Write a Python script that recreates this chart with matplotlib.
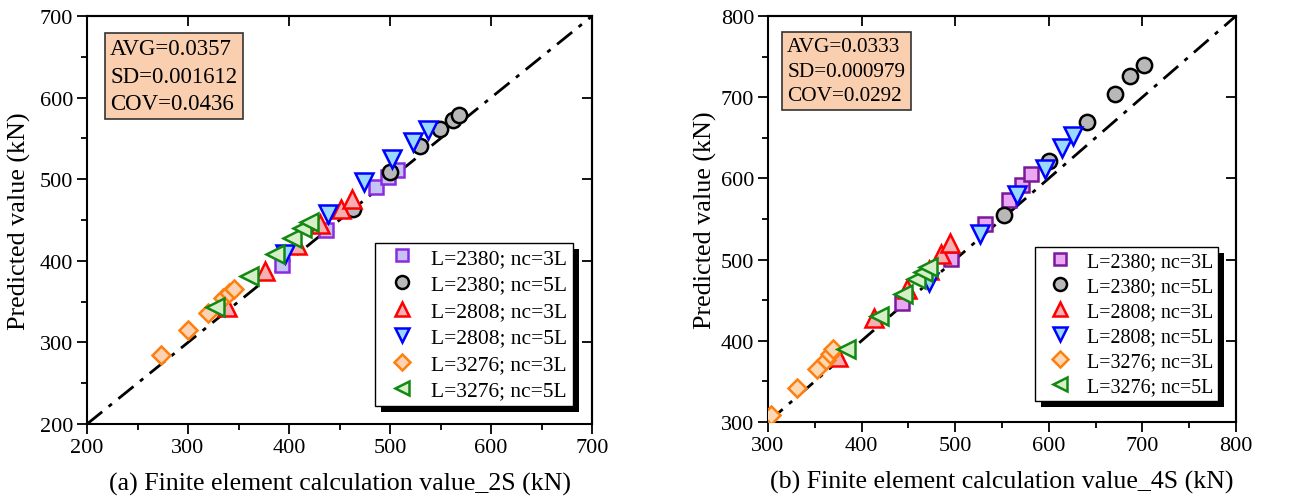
import numpy as np
import matplotlib
matplotlib.use("Agg")
import matplotlib.pyplot as plt
from matplotlib.patches import Rectangle
from matplotlib.ticker import MultipleLocator

plt.rcParams['font.family'] = ['Liberation Serif', 'DejaVu Serif']

labels = ["L=2380; nc=3L", "L=2380; nc=5L", "L=2808; nc=3L",
          "L=2808; nc=5L", "L=3276; nc=3L", "L=3276; nc=5L"]

# panel (a) 2S: finite element value (x) vs predicted value (y)
a_x = [
    [393, 437, 486, 498, 507],
    [463, 500, 530, 549, 562, 568],
    [339, 376, 408, 431, 451, 462],
    [396, 439, 474, 502, 523, 538],
    [273, 300, 320, 335, 341, 345],
    [327, 360, 386, 403, 413, 420],
]
a_y = [
    [395, 438, 490, 503, 511],
    [463, 509, 541, 562, 573, 579],
    [343, 387, 419, 445, 464, 476],
    [408, 457, 496, 525, 545, 560],
    [285, 315, 336, 354, 361, 365],
    [343, 381, 408, 428, 440, 447],
]
a_stats = "AVG=0.0357\nSD=0.001612\nCOV=0.0436"

# panel (b) 4S
b_x = [
    [443, 495, 532, 558, 571, 581],
    [552, 600, 641, 671, 687, 702],
    [375, 413, 448, 472, 485, 494],
    [472, 526, 566, 596, 614, 626],
    [303, 331, 352, 362, 366, 369],
    [383, 419, 444, 458, 466, 471],
]
b_y = [
    [446, 501, 544, 573, 592, 605],
    [555, 621, 670, 704, 726, 740],
    [380, 428, 464, 487, 507, 520],
    [473, 532, 579, 612, 637, 652],
    [309, 342, 365, 376, 384, 390],
    [390, 431, 457, 476, 485, 491],
]
b_stats = "AVG=0.0333\nSD=0.000979\nCOV=0.0292"

markers = ['s', 'o', '^', 'v', 'D', '<']
sizes = [9.5, 11, 12.5, 12.5, 9.5, 12.5]
edges_a = ['#8a2be2', 'black', '#ff0000', '#0000ff', '#ff7f0e', '#118811']
faces_a = ['#c4c4f4', '#b8b8b8', '#f6b0b4', '#99d8ff', '#fbd3b4', '#d6efc8']
edges_b = ['#7a1a9a', 'black', '#ff0000', '#0000ff', '#ff7f0e', '#118811']
faces_b = ['#eaa8f2', '#b8b8b8', '#f6b0b4', '#99d8ff', '#fbd9b4', '#d6efc8']


def draw_panel(ax, xs, ys, edges, faces, lo, hi, stats, xlabel,
               scale, stat_pos, leg_pos, ylabelpad):
    ax.plot([lo, hi], [lo, hi], color='black', lw=2,
            dashes=(7, 3, 1.5, 3), zorder=1)
    for i in range(len(labels)):
        ax.plot(xs[i], ys[i], linestyle='none', marker=markers[i],
                ms=sizes[i], mec=edges[i], mfc=faces[i], mew=1.8,
                label=labels[i], zorder=3)
    ax.set_xlim(lo, hi)
    ax.set_ylim(lo, hi)
    ax.xaxis.set_major_locator(MultipleLocator(100))
    ax.yaxis.set_major_locator(MultipleLocator(100))
    ax.xaxis.set_minor_locator(MultipleLocator(50))
    ax.yaxis.set_minor_locator(MultipleLocator(50))
    ax.tick_params(which='both', direction='out', labelsize=16,
                   width=1.3, pad=3)
    ax.tick_params(which='major', length=7)
    ax.tick_params(which='minor', length=4)
    # inward major ticks on the top and right
    top = ax.secondary_xaxis('top')
    top.xaxis.set_major_locator(MultipleLocator(100))
    top.tick_params(direction='in', length=7, width=1.3, labeltop=False)
    right = ax.secondary_yaxis('right')
    right.yaxis.set_major_locator(MultipleLocator(100))
    right.tick_params(direction='in', length=7, width=1.3, labelright=False)
    for s in list(ax.spines.values()) + [top.spines['top'], right.spines['right']]:
        s.set_linewidth(1.5)
    ax.set_xlabel(xlabel, fontsize=18.6, labelpad=11)
    ax.set_ylabel("Predicted value (kN)", fontsize=18.8, labelpad=ylabelpad)
    ax.text(stat_pos[0], stat_pos[1], stats, transform=ax.transAxes,
            fontsize=16.5 * scale, va='top', ha='left', linespacing=1.38,
            bbox=dict(boxstyle='square,pad=0.25', fc='#f9cfb0',
                      ec='#333333', lw=1.2))
    leg = ax.legend(loc='lower right', bbox_to_anchor=leg_pos,
                    fontsize=15.5 * scale, frameon=True, fancybox=False,
                    edgecolor='black', framealpha=1, handlelength=2.0,
                    handletextpad=0.35, borderpad=0.25, labelspacing=0.3,
                    borderaxespad=0, markerscale=0.85)
    leg.get_frame().set_linewidth(1.0)
    return leg


fig = plt.figure(figsize=(13.05, 5.02), dpi=100)
ax1 = fig.add_axes([0.0667, 0.1534, 0.3870, 0.8127])
ax2 = fig.add_axes([0.5885, 0.1574, 0.3586, 0.8088])

leg1 = draw_panel(ax1, a_x, a_y, edges_a, faces_a, 200, 700, a_stats,
                  "(a) Finite element calculation value_2S (kN)",
                  1.0, (0.046, 0.945), (0.962, 0.044), 6)
leg2 = draw_panel(ax2, b_x, b_y, edges_b, faces_b, 300, 800, b_stats,
                  "(b) Finite element calculation value_4S (kN)",
                  0.93, (0.041, 0.947), (0.9615, 0.052), 3)

# black offset shadow behind each legend
fig.canvas.draw()
inv = fig.transFigure.inverted()
for ax, leg in ((ax1, leg1), (ax2, leg2)):
    bb = leg.get_window_extent()
    off = 6
    (x0, y0), (x1, y1) = inv.transform([[bb.x0 + off, bb.y0 - off],
                                        [bb.x1 + off, bb.y1 - off]])
    ax.add_artist(Rectangle((x0, y0), x1 - x0, y1 - y0,
                            transform=fig.transFigure, fc='black',
                            ec='none', zorder=4, clip_on=False))
    leg.set_zorder(6)

fig.savefig("out.png", dpi=100)
